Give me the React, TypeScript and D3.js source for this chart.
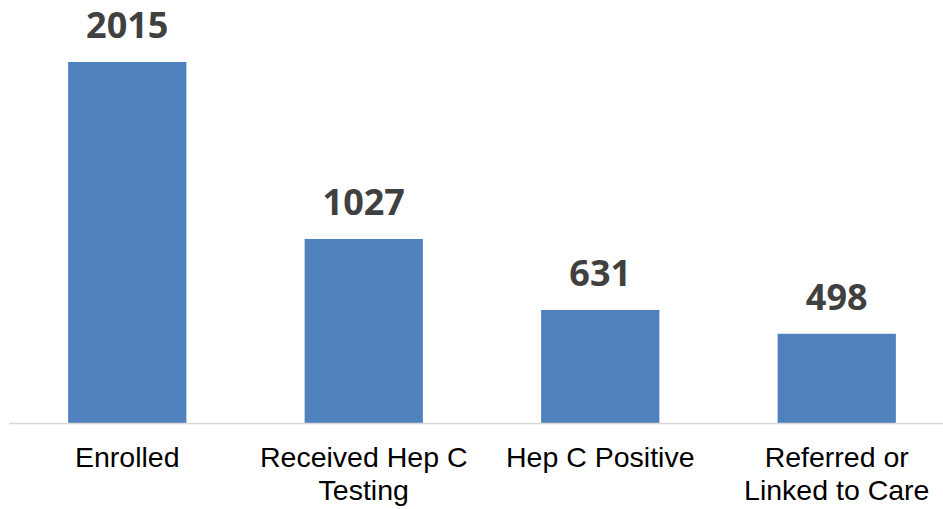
import React from "react";
import * as d3 from "d3";

const categories = ["Enrolled", "Received Hep C Testing", "Hep C Positive", "Referred or Linked to Care"];
const categoryLines = [["Enrolled"], ["Received Hep C", "Testing"], ["Hep C Positive"], ["Referred or", "Linked to Care"]];
const values = [2015, 1027, 631, 498];

const W = 943;
const H = 509;

export default function App() {
  const x = d3.scaleBand<string>().domain(categories).range([9, 955]).paddingInner(0.5).paddingOuter(0.25);
  const y = d3.scaleLinear().domain([0, 2015]).range([423, 62]);
  return (
    <div style={{ position: "fixed", left: 0, top: 0 }}>
      <svg width={W} height={H} style={{ display: "block", background: "#fff" }}>
        {categories.map((c, i) => (
          <rect key={c} x={x(c)} y={y(values[i])} width={x.bandwidth()} height={y(0) - y(values[i])} fill="#4f81bd" />
        ))}
        <line x1={9} x2={W} y1={423.5} y2={423.5} stroke="#d9d9d9" strokeWidth={1.5} />
        {categories.map((c, i) => (
          <text key={c + "v"} x={x(c)! + x.bandwidth() / 2} y={y(values[i]) - 24} textAnchor="middle"
            fontFamily="'Open Sans', sans-serif" fontWeight="bold" fontSize={36} fill="#404040">
            {values[i]}
          </text>
        ))}
        {categories.map((c, i) => (
          <text key={c + "l"} textAnchor="middle" fontFamily="'Liberation Sans', Arial, sans-serif" fontSize={28.5} fill="#000">
            {categoryLines[i].map((ln, j) => (
              <tspan key={j} x={x(c)! + x.bandwidth() / 2} y={467 + j * 33}>{ln}</tspan>
            ))}
          </text>
        ))}
      </svg>
    </div>
  );
}
